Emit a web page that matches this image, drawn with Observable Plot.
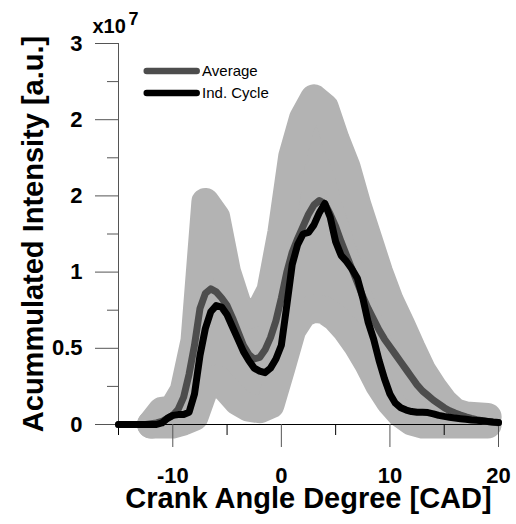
<!DOCTYPE html>
<html><head><meta charset="utf-8">
<script src="https://cdn.jsdelivr.net/npm/d3@7"></script>
<script src="https://cdn.jsdelivr.net/npm/@observablehq/plot@0.6"></script>
<style>html,body{margin:0;padding:0;background:#fff}</style>
</head><body><div id="chart"></div>
<script>
// ---- data (units of 1e7) ----
const cadLine = [-15,-14.5,-14,-13.5,-13,-12.5,-12,-11.5,-11,-10.5,-10,-9.5,-9,-8.5,-8,-7.5,-7,-6.5,-6,-5.5,-5,-4.5,-4,-3.5,-3,-2.5,-2,-1.5,-1,-0.5,0,0.5,1,1.5,2,2.5,3,3.5,4,4.5,5,5.5,6,6.5,7,7.5,8,8.5,9,9.5,10,10.5,11,11.5,12,12.5,13,13.5,14,14.5,15,15.5,16,16.5,17,17.5,18,18.5,19,19.5,20];
const averageIntensity = [0,0,0,0,0,0,0.005,0.01,0.02,0.04,0.06,0.1,0.18,0.33,0.52,0.76,0.86,0.89,0.87,0.83,0.78,0.7,0.61,0.52,0.46,0.43,0.44,0.49,0.57,0.68,0.83,1.0,1.13,1.22,1.3,1.38,1.44,1.47,1.45,1.38,1.3,1.2,1.11,1.02,0.93,0.84,0.76,0.69,0.62,0.56,0.51,0.46,0.41,0.36,0.31,0.26,0.22,0.19,0.16,0.135,0.11,0.09,0.075,0.062,0.05,0.04,0.032,0.025,0.02,0.015,0.012];
const cycleIntensity = [0,0,0,0,0,0,0,0,0.01,0.04,0.06,0.065,0.065,0.08,0.2,0.45,0.63,0.74,0.78,0.77,0.72,0.64,0.56,0.48,0.42,0.37,0.35,0.34,0.37,0.43,0.52,0.78,1.05,1.18,1.25,1.26,1.31,1.39,1.45,1.36,1.2,1.11,1.07,1.02,0.96,0.83,0.67,0.56,0.42,0.3,0.2,0.14,0.11,0.095,0.085,0.08,0.08,0.078,0.07,0.06,0.053,0.047,0.042,0.038,0.034,0.03,0.027,0.024,0.02,0.016,0.013];
const cadBand = [-12,-11,-10,-9,-8,-7,-6,-5,-4,-3,-2,-1,0,1,2,3,4,5,6,7,8,9,10,11,12,13,14,15,16,17,18,19];
const bandUpper = [0,0.09,0.1,0.22,0.55,1.46,1.36,1.0,0.78,0.72,0.74,0.88,1.26,1.76,2.01,2.14,2.08,1.87,1.69,1.44,1.22,1.0,0.81,0.66,0.5,0.35,0.24,0.145,0.08,0.06,0.055,0.05];
const bandLower = [0,0,0,0.02,0.05,0.25,0.3,0.23,0.15,0.11,0.1,0.13,0.37,0.62,0.73,0.76,0.75,0.7,0.62,0.52,0.4,0.26,0.15,0.07,0.02,0,0,0,0,0,0,0];
const xMajorTicks = [-10, 0, 10, 20];
const xMinorTicks = [-15, -5, 5, 15];
const yMajorTicks = [0, 0.5, 1, 1.5, 2, 2.5];
const yTickLabels = ["0", "0.5", "1", "2", "2", "3"];
const yMinorTicks = [0.25, 0.75, 1.25, 1.75, 2.25];
const legendLabels = ["Average", "Ind. Cycle"];
const xTitle = "Crank Angle Degree [CAD]";
const yTitle = "Acummulated Intensity [a.u.]";
const exponentBase = "x10";
const exponentPower = "7";

// ---- styles ----
const FONT = "'Liberation Sans', Arial, Helvetica, sans-serif";
const BAND = "#b3b3b3";
const AVG = "#4d4d4d";
const IND = "#000000";
const AXIS = "#555555";

const lineRows = cadLine.map((x, i) => ({x, avg: averageIntensity[i], ind: cycleIntensity[i]}));
const bandRows = cadBand.map((x, i) => ({x, lo: bandLower[i], hi: bandUpper[i]}));

// legend layout (data units)
const legX1 = -12.4, legX2 = -7.8, legTextX = -7.3, legY0 = 2.32, legStep = 0.145;

const chart = Plot.plot({
  width: 516,
  height: 524,
  marginLeft: 118,
  marginRight: 18,
  marginTop: 43,
  marginBottom: 100,
  x: {domain: [-15, 20]},
  y: {domain: [0, 2.5]},
  style: {fontFamily: FONT, background: "white", color: "black", overflow: "visible"},
  marks: [
    // variability band
    Plot.areaY(bandRows, {x: "x", y1: "lo", y2: "hi", fill: BAND}),
    Plot.line(bandRows, {x: "x", y: "hi", stroke: BAND, strokeWidth: 28, strokeLinejoin: "round", strokeLinecap: "round"}),
    Plot.line(bandRows, {x: "x", y: "lo", stroke: BAND, strokeWidth: 28, strokeLinejoin: "round", strokeLinecap: "round"}),
    // axis lines
    Plot.ruleX([-15], {stroke: AXIS}),
    Plot.ruleY([0], {stroke: "black"}),
    // x axis
    Plot.axisX(xMajorTicks, {tickSize: 23, tickFormat: () => "", stroke: AXIS, label: null}),
    Plot.axisX(xMinorTicks, {tickSize: 11, tickFormat: () => "", stroke: "black", label: null}),
    Plot.axisX(xMajorTicks, {tickSize: 0, tickPadding: 43, tickFormat: d => String(d), fontSize: 22, fontWeight: "bold", fill: "black", label: null}),
    // y axis
    Plot.axisY(yMajorTicks, {tickSize: 23, tickFormat: () => "", stroke: AXIS, label: null}),
    Plot.axisY(yMinorTicks, {tickSize: 11, tickFormat: () => "", stroke: AXIS, label: null}),
    Plot.axisY(yMajorTicks, {tickSize: 0, tickPadding: 36, tickFormat: d => yTickLabels[yMajorTicks.indexOf(d)], fontSize: 22, fontWeight: "bold", fill: "black", label: null}),
    // series
    Plot.line(lineRows, {x: "x", y: "avg", stroke: AVG, strokeWidth: 7, strokeLinejoin: "round", strokeLinecap: "round"}),
    Plot.line(lineRows, {x: "x", y: "ind", stroke: IND, strokeWidth: 7, strokeLinejoin: "round", strokeLinecap: "round"}),
    // legend
    Plot.link([legendLabels[0]], {x1: () => legX1, x2: () => legX2, y1: () => legY0, y2: () => legY0, stroke: AVG, strokeWidth: 6.5, strokeLinecap: "round"}),
    Plot.link([legendLabels[1]], {x1: () => legX1, x2: () => legX2, y1: () => legY0 - legStep, y2: () => legY0 - legStep, stroke: IND, strokeWidth: 6.5, strokeLinecap: "round"}),
    Plot.text(legendLabels, {x: () => legTextX, y: (d, i) => legY0 - i * legStep, text: d => d, textAnchor: "start", lineAnchor: "middle", fontSize: 15, fill: "black"}),
    // titles
    Plot.text([xTitle], {frameAnchor: "bottom", lineAnchor: "middle", dy: 74, text: d => d, textAnchor: "middle", fontSize: 29, fontWeight: "bold", fill: "black"}),
    Plot.text([yTitle], {frameAnchor: "left", lineAnchor: "middle", dx: -85, rotate: -90, text: d => d, textAnchor: "middle", fontSize: 29, fontWeight: "bold", fill: "black"}),
    // exponent
    Plot.text([exponentBase], {frameAnchor: "top-left", lineAnchor: "middle", dx: -26, dy: -17, text: d => d, textAnchor: "start", fontSize: 20, fontWeight: "bold", fill: "black"}),
    Plot.text([exponentPower], {frameAnchor: "top-left", lineAnchor: "middle", dx: 10, dy: -24, text: d => d, textAnchor: "start", fontSize: 18, fontWeight: "bold", fill: "black"})
  ]
});
document.getElementById("chart").appendChild(chart);
</script>
</body></html>
